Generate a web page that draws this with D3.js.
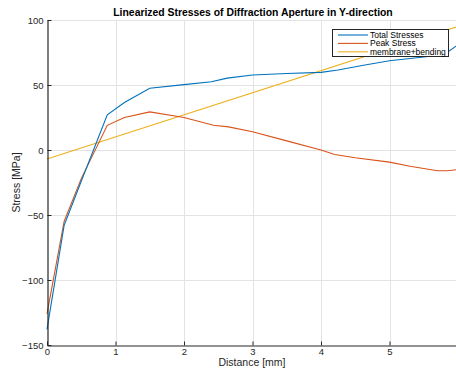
<!DOCTYPE html>
<html>
<head>
<meta charset="utf-8">
<script src="https://cdn.jsdelivr.net/npm/d3@7"></script>
<style>
  html, body { margin: 0; padding: 0; background: #fff; }
  svg { display: block; font-family: "Liberation Sans", Arial, sans-serif; }
</style>
</head>
<body>
<svg id="chart" width="456" height="372"></svg>
<script>
// Linearized stresses along the aperture path
const distanceTotal = [0, 0.25, 0.5, 0.88, 1.13, 1.5, 2.0, 2.4, 2.63, 3.0, 3.5, 4.0, 4.25, 4.6, 5.0, 5.5, 5.8, 6.0];
const totalStress   = [-138, -58, -24, 27, 36.5, 47.5, 50.3, 52.5, 55.3, 57.7, 58.8, 59.7, 61.5, 65, 68.7, 71.5, 73.5, 81];

const distancePeak = [0, 0.25, 0.5, 0.88, 1.13, 1.5, 2.0, 2.43, 2.65, 3.0, 3.5, 4.0, 4.2, 4.5, 5.0, 5.3, 5.7, 5.85, 6.0];
const peakStress   = [-126, -55, -22, 19, 25, 29.3, 25, 19, 17.8, 14, 7, 0, -3.5, -6, -9.3, -12.5, -16, -16, -15];

const distanceMB = [0, 6];
const membraneBending = [-7, 95];

const xTicks = [0, 1, 2, 3, 4, 5, 6];
const yTicks = [-150, -100, -50, 0, 50, 100];

const seriesNames = ["Total Stresses", "Peak Stress", "membrane+bending"];
const seriesColors = ["#0072BD", "#D95319", "#EDB120"];

const svg = d3.select("#chart");
const plot = { left: 47, right: 458, top: 20, bottom: 345 };

const x = d3.scaleLinear().domain([0, 6]).range([plot.left, plot.right]);
const y = d3.scaleLinear().domain([-150, 100]).range([plot.bottom, plot.top]);

// grid
const grid = svg.append("g").attr("stroke", "#e3e3e3").attr("stroke-width", 1);
xTicks.filter(d => d !== 0).forEach(d => {
  grid.append("line").attr("x1", Math.round(x(d)) + 0.5).attr("x2", Math.round(x(d)) + 0.5)
    .attr("y1", plot.top).attr("y2", plot.bottom);
});
yTicks.filter(d => d !== -150).forEach(d => {
  grid.append("line").attr("y1", Math.round(y(d)) + 0.5).attr("y2", Math.round(y(d)) + 0.5)
    .attr("x1", plot.left).attr("x2", plot.right);
});

// series
const line = d3.line().x(d => x(d[0])).y(d => y(d[1]));
const series = [
  d3.zip(distanceTotal, totalStress),
  d3.zip(distancePeak, peakStress),
  d3.zip(distanceMB, membraneBending)
];
// membrane line first so the blue and red curves sit on top
[2, 1, 0].forEach(i => {
  svg.append("path").datum(series[i])
    .attr("fill", "none").attr("stroke", seriesColors[i]).attr("stroke-width", 1.1)
    .attr("d", line);
});

// axes
const axisColor = "#262626";
const xAxis = svg.append("g").attr("transform", `translate(0,${Math.round(y(-150)) + 0.5})`)
  .call(d3.axisBottom(x).tickValues(xTicks).tickFormat(d3.format("d")).tickSizeInner(-4).tickSizeOuter(0).tickPadding(3));
const yAxis = svg.append("g").attr("transform", `translate(${Math.round(x(0)) + 0.5},0)`)
  .call(d3.axisLeft(y).tickValues(yTicks).tickFormat(d3.format("d")).tickSizeInner(-4).tickSizeOuter(0).tickPadding(4));
[xAxis, yAxis].forEach(g => {
  g.select(".domain").attr("stroke", axisColor).attr("stroke-width", 1.2);
  g.selectAll(".tick line").attr("stroke", axisColor);
  g.selectAll(".tick text").attr("fill", axisColor).attr("font-size", 9.5)
    .attr("font-family", "Liberation Sans, Arial, sans-serif");
});

// title and labels
svg.append("text").attr("x", 253).attr("y", 16).attr("text-anchor", "middle")
  .attr("font-weight", "bold").attr("font-size", 10.4).attr("fill", "#000")
  .text("Linearized Stresses of Diffraction Aperture in Y-direction");
svg.append("text").attr("x", 252).attr("y", 366).attr("text-anchor", "middle")
  .attr("font-size", 10.5).attr("fill", axisColor).text("Distance [mm]");
svg.append("text").attr("transform", "translate(20,182.5) rotate(-90)").attr("text-anchor", "middle")
  .attr("font-size", 10.5).attr("fill", axisColor).text("Stress [MPa]");

// legend
const legend = svg.append("g");
legend.append("rect").attr("x", 332.5).attr("y", 29.5).attr("width", 116).attr("height", 27)
  .attr("fill", "#fff").attr("stroke", axisColor).attr("stroke-width", 1);
seriesNames.forEach((name, i) => {
  const ly = 35 + i * 8.4;
  legend.append("line").attr("x1", 338).attr("x2", 368).attr("y1", ly).attr("y2", ly)
    .attr("stroke", seriesColors[i]).attr("stroke-width", 1.1);
  legend.append("text").attr("x", 370).attr("y", ly + 3).attr("font-size", 8.5)
    .attr("fill", "#000").text(name);
});
</script>
</body>
</html>
